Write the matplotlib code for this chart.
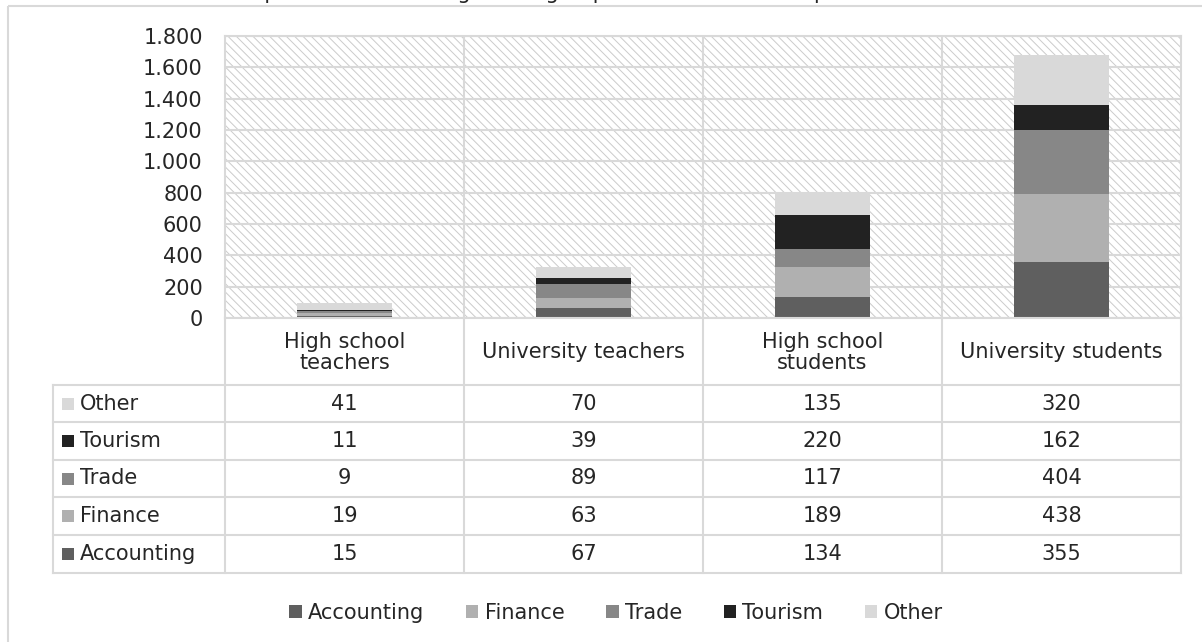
import matplotlib
matplotlib.use("Agg")
import matplotlib.pyplot as plt
from matplotlib.patches import Rectangle
from matplotlib.lines import Line2D

# ---------------- data ----------------
categories = ["High school\nteachers", "University teachers",
              "High school\nstudents", "University students"]
series_names = ["Accounting", "Finance", "Trade", "Tourism", "Other"]
accounting = [15, 67, 134, 355]
finance = [19, 63, 189, 438]
trade = [9, 89, 117, 404]
tourism = [11, 39, 220, 162]
other = [41, 70, 135, 320]
colors = ["#5f5f5f", "#b0b0b0", "#878787", "#222222", "#d9d9d9"]
yticks = [0, 200, 400, 600, 800, 1000, 1200, 1400, 1600, 1800]
ytick_labels = ["0", "200", "400", "600", "800", "1.000", "1.200",
                "1.400", "1.600", "1.800"]
caption = "Chart 1. Structure of respondents according to the groups and their field of specialization"

series = [accounting, finance, trade, tourism, other]

plt.rcParams["font.family"] = ["DejaVu Sans"]
plt.rcParams["hatch.linewidth"] = 0.7
FS = 15
GRID = "#d9d9d9"
TXT = "#262626"

W, H = 1202, 642
fig = plt.figure(figsize=(W / 100, H / 100), dpi=100)
fig.patch.set_facecolor("white")


def fx(px):
    return px / W


def fy(py):
    return 1 - py / H


# overlay axes in pixel coordinates
ov = fig.add_axes([0, 0, 1, 1], zorder=0)
ov.set_xlim(0, W)
ov.set_ylim(H, 0)
ov.axis("off")

# outer chart border (cut at right/bottom)
ov.add_patch(Rectangle((8, 6), 1300, 700, facecolor="none",
                       edgecolor=GRID, linewidth=1.5, clip_on=False))
# caption cut off by the top edge (only descenders visible, as in reference)
ov.text(12, -1.0, caption, fontsize=FS, color=TXT, va="baseline", ha="left",
        clip_on=False)

# main plot axes
L, R, T, B = 225, 1181, 36, 318
ax = fig.add_axes([fx(L), fy(B), (R - L) / W, (B - T) / H], zorder=1)
ax.set_xlim(-0.5, len(categories) - 0.5)
ax.set_ylim(0, 1800)
ax.patch.set_alpha(0)

ax.add_patch(Rectangle((0, 0), 1, 1, transform=ax.transAxes,
                       facecolor="white", edgecolor="#cbcbcb",
                       hatch="\\\\\\\\", linewidth=0, zorder=0))
for yv in yticks:
    ax.axhline(yv, color=GRID, linewidth=1.5, zorder=1)
for xv in [0.5, 1.5, 2.5]:
    ax.axvline(xv, color=GRID, linewidth=1.5, zorder=1)
for s in ax.spines.values():
    s.set_color(GRID)
    s.set_linewidth(1.5)

x = list(range(len(categories)))
bottom = [0] * len(categories)
handles = []
for name, vals, c in zip(series_names, series, colors):
    h = ax.bar(x, vals, width=0.4, bottom=bottom, color=c, label=name,
               zorder=2, linewidth=0)
    handles.append(h)
    bottom = [b + v for b, v in zip(bottom, vals)]

ax.set_yticks(yticks)
ax.set_yticklabels(ytick_labels, fontsize=FS, color=TXT)
ax.tick_params(axis="y", length=0, pad=16)
ax.set_xticks([])

# ---------------- data table ----------------
col_edges = [225, 464, 703, 942, 1181]
row_edges = [385, 422, 460, 497, 535, 573]
label_left = 53
lw = 1.5
for xe in col_edges:
    ov.add_line(Line2D([xe, xe], [B, row_edges[-1]], color=GRID, lw=lw))
ov.add_line(Line2D([label_left, label_left], [row_edges[0], row_edges[-1]],
                   color=GRID, lw=lw))
for ye in row_edges:
    ov.add_line(Line2D([label_left, col_edges[-1]], [ye, ye], color=GRID, lw=lw))

# category labels
for i, cat in enumerate(categories):
    cx = (col_edges[i] + col_edges[i + 1]) / 2
    ov.text(cx, (B + row_edges[0]) / 2 + 1, cat, ha="center", va="center",
            fontsize=FS, color=TXT, linespacing=1.1)

# rows: Other on top down to Accounting
order = list(range(len(series_names)))[::-1]
for r, si in enumerate(order):
    y0, y1 = row_edges[r], row_edges[r + 1]
    cy = (y0 + y1) / 2
    ov.add_patch(Rectangle((62, cy - 6), 12, 12, facecolor=colors[si],
                           edgecolor="none"))
    ov.text(80, cy, series_names[si], ha="left", va="center", fontsize=FS,
            color=TXT)
    for i, v in enumerate(series[si]):
        cx = (col_edges[i] + col_edges[i + 1]) / 2
        ov.text(cx, cy, str(v), ha="center", va="center", fontsize=FS,
                color=TXT)

# legend
fig.legend(handles, series_names, loc="center",
           bbox_to_anchor=(fx(616), fy(613)), ncol=5, frameon=False,
           fontsize=FS, handlelength=0.6, handleheight=0.6,
           handletextpad=0.3, columnspacing=2.0, labelcolor=TXT)

fig.savefig("out.png", dpi=100, facecolor="white")
